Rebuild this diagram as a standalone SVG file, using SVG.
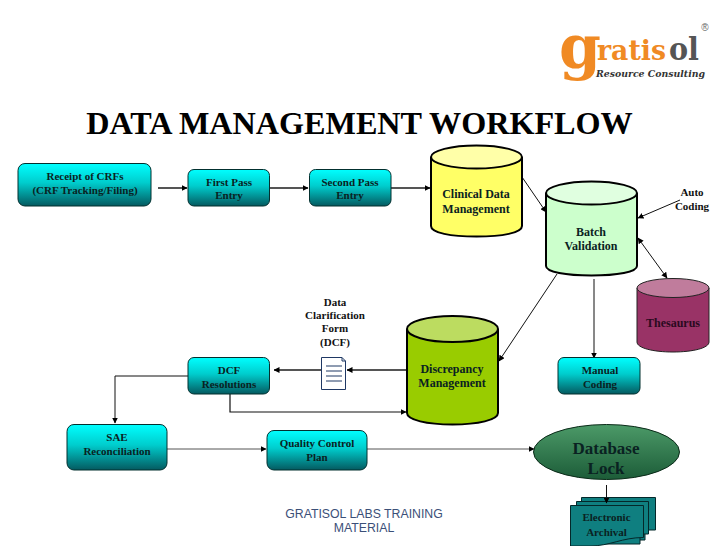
<svg xmlns="http://www.w3.org/2000/svg" width="728" height="546" viewBox="0 0 728 546">
<style>
text{font-family:"Liberation Serif",serif;font-weight:700;text-anchor:middle;fill:#0a2222;font-size:11px}
.box{fill:url(#teal);stroke:#03302f;stroke-width:1}
.cyl{stroke:#000;stroke-width:2}
.thin{fill:none;stroke:#111;stroke-width:1}
.grey{fill:none;stroke:#555;stroke-width:2}
.lbl{fill:#111}
</style>
<defs>
<linearGradient id="teal" x1="0" y1="0" x2="0" y2="1"><stop offset="0" stop-color="#00ffff"/><stop offset="0.45" stop-color="#00cdcd"/><stop offset="1" stop-color="#045a60"/></linearGradient>
<linearGradient id="green" x1="0" y1="0" x2="0" y2="1"><stop offset="0" stop-color="#4c9a68"/><stop offset="1" stop-color="#1c5c38"/></linearGradient>
<marker id="a" markerWidth="6" markerHeight="6" refX="5.5" refY="3" orient="auto-start-reverse" markerUnits="userSpaceOnUse"><path d="M0 0L6 3L0 6z" fill="#000"/></marker>
</defs>

<g id="logo">
<text x="580" y="68" style="font-family:'DejaVu Serif',serif;font-size:60px;fill:#f08a24">g</text>
<text x="597" y="60" textLength="69" lengthAdjust="spacingAndGlyphs" style="font-family:'DejaVu Serif',serif;text-anchor:start;font-size:28px;fill:#f08a24">ratis</text>
<text x="669" y="60" textLength="30" lengthAdjust="spacingAndGlyphs" style="font-family:'DejaVu Serif',serif;text-anchor:start;font-size:32px;fill:#555">ol</text>
<text x="705" y="31" style="font-size:10px;font-family:'Liberation Sans',sans-serif;font-weight:400;fill:#666">®</text>
<text x="596" y="77" textLength="109" lengthAdjust="spacingAndGlyphs" style="font-family:'DejaVu Serif',serif;text-anchor:start;font-size:10px;font-style:italic;fill:#333">Resource Consulting</text>
</g>

<text id="title" x="359.500" y="134" style="font-size:32.200px;fill:#000">DATA MANAGEMENT WORKFLOW</text>

<g id="connectors">
<path class="grey" d="M158 188H187" marker-end="url(#a)"/>
<path class="grey" d="M268 188H308" marker-end="url(#a)"/>
<path class="grey" d="M391 188H430" marker-end="url(#a)"/>
<path class="thin" d="M522 177L546 212" marker-end="url(#a)"/>
<path class="thin" d="M680 200L638 218" marker-end="url(#a)"/>
<path class="thin" d="M638 238L667 278" marker-start="url(#a)" marker-end="url(#a)"/>
<path class="thin" d="M557 274L499 361" marker-end="url(#a)"/>
<path class="thin" d="M594 279V358" marker-end="url(#a)"/>
<path class="grey" d="M407 370H347" marker-end="url(#a)"/>
<path class="grey" d="M321 370H274" marker-end="url(#a)"/>
<path class="thin" d="M230 394V412H406" marker-end="url(#a)" style="stroke-width:1.200"/>
<path class="thin" d="M188 376H115V423" marker-end="url(#a)"/>
<path class="grey" d="M165 449H266" marker-end="url(#a)" style="stroke-width:1"/>
<path class="grey" d="M365 449H534" marker-end="url(#a)" style="stroke-width:1"/>
</g>

<g id="receipt"><rect class="box" x="18" y="163.500" width="133" height="42.500" rx="7"/><text x="85" y="180">Receipt of CRFs</text><text x="85" y="194">(CRF Tracking/Filing)</text></g>
<g id="first-pass"><rect class="box" x="188" y="169.500" width="81.500" height="36.500" rx="6"/><text x="229" y="186">First Pass</text><text x="229" y="199">Entry</text></g>
<g id="second-pass"><rect class="box" x="309.500" y="169.500" width="81.500" height="36.500" rx="6"/><text x="350" y="186">Second Pass</text><text x="350" y="199">Entry</text></g>

<g id="clinical-data"><path class="cyl" fill="#ffff66" d="M431 157V226C431 233 451 236.500 476.500 236.500S522 233 522 226V157"/><ellipse class="cyl" fill="#ffffa8" cx="476.500" cy="157" rx="45.500" ry="11.500"/><text x="476" y="198" style="font-size:12px">Clinical Data</text><text x="476" y="213" style="font-size:12px">Management</text></g>
<g id="batch-validation"><path class="cyl" fill="#ccffcc" d="M546 193V266C546 272 566 275.500 591.500 275.500S637 272 637 266V193"/><ellipse class="cyl" fill="#e0ffe0" cx="591.500" cy="193" rx="45.500" ry="11.500"/><text x="591" y="236" style="font-size:12px">Batch</text><text x="591" y="250" style="font-size:12px">Validation</text></g>
<g id="thesaurus"><path fill="#993366" stroke="#222" d="M637 288V342C637 348 653 352 673 352S709 348 709 342V288"/><ellipse fill="#c07c9c" stroke="#222" cx="673" cy="288" rx="36" ry="9.500"/><text x="673" y="327" style="font-size:12px;fill:#2a0a20">Thesaurus</text></g>
<g id="discrepancy"><path class="cyl" fill="#99cc00" d="M407 329V413C407 420 427 424.500 452.500 424.500S498 420 498 413V329"/><ellipse fill="#bcdc60" stroke="#000" stroke-width="2" cx="452.500" cy="329" rx="45.500" ry="13"/><text x="452" y="373" style="font-size:12px">Discrepancy</text><text x="452" y="387" style="font-size:12px">Management</text></g>

<g id="auto-coding"><text class="lbl" x="692" y="196">Auto</text><text class="lbl" x="692" y="210">Coding</text></g>
<g id="dcf-form"><text class="lbl" x="335" y="306">Data</text><text class="lbl" x="335" y="319">Clarification</text><text class="lbl" x="335" y="332">Form</text><text class="lbl" x="335" y="346">(DCF)</text>
<path fill="#fff" stroke="#1f3864" d="M321.500 357.500H342L345.500 361V389.500H321.500Z"/><path fill="none" stroke="#1f3864" d="M342 357.500V361H345.500M326 366H342M326 371H342M326 376H342M326 381H342"/></g>
<g id="dcf-resolutions"><rect class="box" x="188" y="357.500" width="81.500" height="36.500" rx="6"/><text x="229" y="374">DCF</text><text x="229" y="388">Resolutions</text></g>
<g id="manual-coding"><rect class="box" x="558" y="357.500" width="82" height="36.500" rx="6"/><text x="600" y="374">Manual</text><text x="600" y="388">Coding</text></g>
<g id="sae"><rect class="box" x="67" y="424.500" width="100" height="45.500" rx="7"/><text x="117" y="441">SAE</text><text x="117" y="455">Reconciliation</text></g>
<g id="quality-control"><rect class="box" x="267" y="430.500" width="100" height="39.500" rx="7"/><text x="317" y="447">Quality Control</text><text x="317" y="461">Plan</text></g>
<g id="database-lock"><ellipse fill="url(#green)" stroke="#0a2a18" cx="606.500" cy="452" rx="73" ry="27.500"/><text x="606" y="454" style="font-size:17px">Database</text><text x="606" y="474" style="font-size:17px">Lock</text></g>
<g id="electronic-archival"><path fill="#0f7f80" stroke="#04282a" d="M581.500 497.500H655.500V530H645V540H581.500Z"/><path fill="#0f7f80" stroke="#04282a" d="M576.500 501.500H648.500V534H640V544H576.500Z"/><path fill="#0f7f80" stroke="#04282a" d="M570.500 505.500H643.500V537.500C622 537.500 610 546 590 546H570.500Z"/><text x="606.500" y="521">Electronic</text><text x="606.500" y="536">Archival</text></g>
<path class="thin" d="M606.500 485V503" marker-end="url(#a)"/>

<g id="footer"><text x="364" y="518" style="font:12.300px 'Liberation Sans',sans-serif;fill:#3b4f78">GRATISOL LABS TRAINING</text><text x="364" y="532" style="font:12.300px 'Liberation Sans',sans-serif;fill:#3b4f78">MATERIAL</text></g>
</svg>
